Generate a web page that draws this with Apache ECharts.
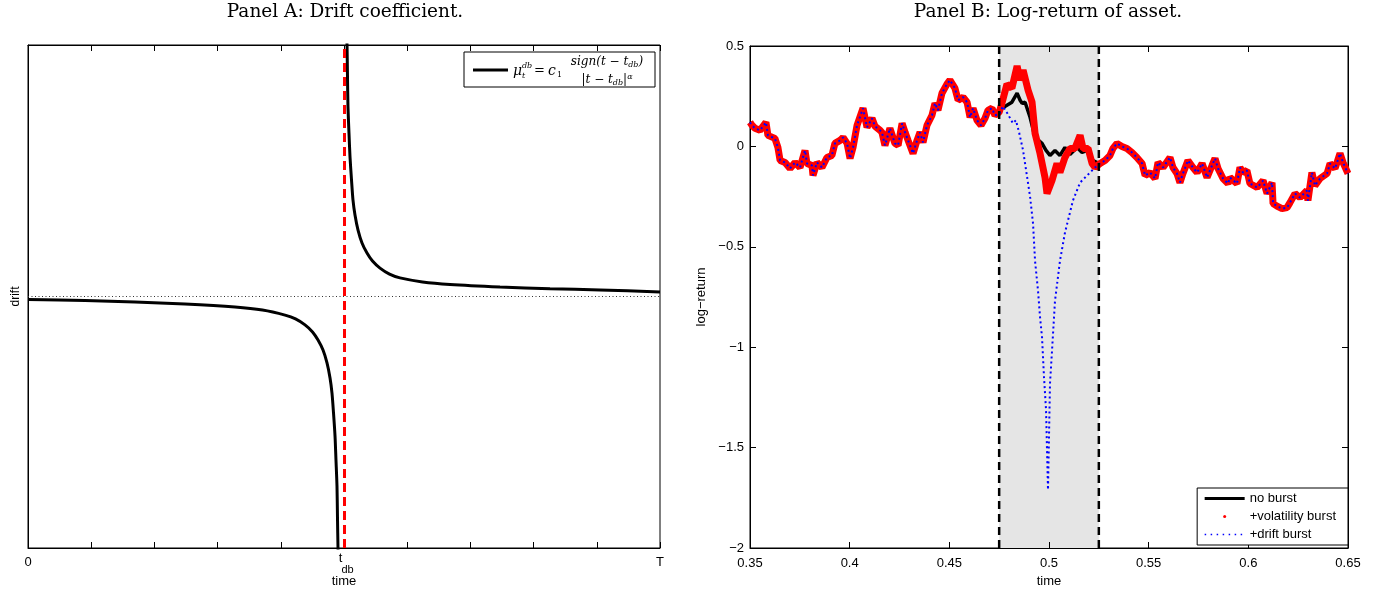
<!DOCTYPE html>
<html><head><meta charset="utf-8">
<script src="https://cdn.jsdelivr.net/npm/echarts/dist/echarts.min.js"></script>
<style>html,body{margin:0;padding:0;background:#fff}#c{width:1389px;height:591px}</style>
</head><body><div id="c"></div>
<script>
// ---------- Panel A data (time as fraction of T, drift in arbitrary units) ----------
const tdb = 0.5;
const driftLeft = [[0,-0.012],[0.0902,-0.016],[0.1693,-0.022],[0.2484,-0.030],[0.3275,-0.042],[0.3710,-0.054],[0.4067,-0.074],[0.4233,-0.089],[0.4383,-0.113],[0.4502,-0.141],[0.4589,-0.173],[0.4668,-0.213],[0.4731,-0.264],[0.4779,-0.324],[0.4810,-0.384],[0.4834,-0.463],[0.4858,-0.555],[0.4873,-0.650],[0.4889,-0.753],[0.4897,-0.881],[0.4905,-1.0],[0.4908,-1.02]];
const driftRight = [[0.5044,1.02],[0.5048,1.0],[0.5055,0.879],[0.5063,0.753],[0.5079,0.649],[0.5095,0.555],[0.5119,0.463],[0.5142,0.384],[0.5174,0.324],[0.5222,0.264],[0.5285,0.213],[0.5364,0.173],[0.5451,0.141],[0.5570,0.113],[0.5720,0.089],[0.5886,0.074],[0.6242,0.058],[0.6677,0.048],[0.7468,0.038],[0.8260,0.031],[0.9051,0.026],[1.0,0.018]];
const xTickLabelsA = {0:'{m|0}', 0.5:'{t|t}\n{s|db}', 1:'{m|T}'};

// ---------- Panel B data ----------
const burstWindow = [0.475, 0.525];
const preWindow = [[0.3500,0.12],[0.3510,0.105],[0.3525,0.09],[0.3550,0.08],[0.3580,0.12],[0.3590,0.055],[0.3625,0.04],[0.3640,-0.005],[0.3651,-0.07],[0.3676,-0.08],[0.3701,-0.11],[0.3726,-0.08],[0.3751,-0.105],[0.3776,-0.02],[0.3786,-0.085],[0.3811,-0.095],[0.3816,-0.145],[0.3836,-0.08],[0.3861,-0.105],[0.3886,-0.055],[0.3911,-0.045],[0.3926,0.015],[0.3952,0.03],[0.3967,0.045],[0.3987,0.015],[0.4002,-0.06],[0.4017,-0.005],[0.4037,0.105],[0.4067,0.19],[0.4087,0.095],[0.4112,0.14],[0.4127,0.10],[0.4152,0.08],[0.4162,0.07],[0.4177,0.005],[0.4202,0.09],[0.4227,0.015],[0.4243,0.005],[0.4263,0.115],[0.4278,0.07],[0.4293,0.03],[0.4318,-0.035],[0.4338,0.03],[0.4353,0.07],[0.4368,0.02],[0.4388,0.105],[0.4413,0.155],[0.4428,0.215],[0.4443,0.18],[0.4463,0.265],[0.4488,0.31],[0.4503,0.33],[0.4528,0.29],[0.4544,0.23],[0.4569,0.245],[0.4589,0.22],[0.4604,0.145],[0.4619,0.19],[0.4639,0.13],[0.4659,0.105],[0.4679,0.14],[0.4694,0.18],[0.4714,0.19],[0.4729,0.155]];
const windowNoBurst = [[0.4750,0.17],[0.4764,0.19],[0.4789,0.205],[0.4814,0.22],[0.4840,0.265],[0.4855,0.23],[0.4865,0.215],[0.4880,0.22],[0.4905,0.145],[0.4930,0.045],[0.4965,0.015],[0.4985,-0.02],[0.5005,-0.045],[0.5030,-0.02],[0.5055,-0.045],[0.5080,-0.005],[0.5105,-0.04],[0.5141,-0.005],[0.5166,-0.03],[0.5191,-0.02],[0.5221,-0.07],[0.5241,-0.08]];
const windowVolBurst = [[0.4750,0.17],[0.4764,0.215],[0.4789,0.31],[0.4814,0.29],[0.4840,0.40],[0.4855,0.33],[0.4870,0.38],[0.4895,0.28],[0.4915,0.22],[0.4930,0.065],[0.4955,-0.035],[0.4980,-0.155],[0.4990,-0.235],[0.5015,-0.17],[0.5040,-0.085],[0.5055,-0.13],[0.5080,-0.055],[0.5105,-0.01],[0.5130,-0.01],[0.5156,0.055],[0.5171,-0.01],[0.5196,-0.01],[0.5216,-0.085],[0.5231,-0.105]];
const windowDriftBurst = [[0.4750,0.16],[0.4769,0.20],[0.4794,0.16],[0.4819,0.115],[0.4834,0.13],[0.4850,0.07],[0.4870,-0.02],[0.4905,-0.25],[0.4920,-0.385],[0.4930,-0.57],[0.4945,-0.72],[0.4955,-0.85],[0.4965,-0.95],[0.4975,-1.15],[0.4985,-1.31],[0.4990,-1.51],[0.4995,-1.71],[0.5005,-1.18],[0.5015,-1.02],[0.5030,-0.77],[0.5055,-0.57],[0.5080,-0.43],[0.5095,-0.37],[0.5120,-0.27],[0.5156,-0.18],[0.5191,-0.145],[0.5231,-0.105]];
const postWindow = [[0.5256,-0.085],[0.5281,-0.07],[0.5306,-0.045],[0.5321,-0.01],[0.5341,0.015],[0.5366,0.0],[0.5391,-0.01],[0.5416,-0.03],[0.5441,-0.055],[0.5467,-0.085],[0.5482,-0.145],[0.5507,-0.13],[0.5532,-0.16],[0.5547,-0.08],[0.5572,-0.105],[0.5607,-0.055],[0.5622,-0.105],[0.5642,-0.135],[0.5657,-0.18],[0.5672,-0.135],[0.5697,-0.07],[0.5722,-0.105],[0.5743,-0.13],[0.5768,-0.085],[0.5793,-0.155],[0.5818,-0.095],[0.5833,-0.06],[0.5848,-0.11],[0.5873,-0.16],[0.5898,-0.185],[0.5908,-0.155],[0.5943,-0.185],[0.5958,-0.105],[0.5973,-0.13],[0.5993,-0.12],[0.6008,-0.185],[0.6044,-0.205],[0.6074,-0.17],[0.6094,-0.235],[0.6119,-0.18],[0.6124,-0.285],[0.6149,-0.30],[0.6169,-0.31],[0.6194,-0.305],[0.6209,-0.28],[0.6234,-0.235],[0.6259,-0.255],[0.6294,-0.22],[0.6299,-0.27],[0.6319,-0.13],[0.6334,-0.195],[0.6360,-0.16],[0.6395,-0.135],[0.6410,-0.085],[0.6435,-0.11],[0.6460,-0.035],[0.6475,-0.08],[0.6500,-0.135]];
const legendNamesB = ['no burst', '+volatility burst', '+drift burst'];
const yRangeB = [-2, 0.5];

const noBurst = preWindow.concat(windowNoBurst, postWindow);
const volBurst = preWindow.concat(windowVolBurst, postWindow);
const driftBurst = preWindow.concat(windowDriftBurst, postWindow);

const FONT = '"Liberation Sans", Arial, sans-serif';
const SERIF = '"DejaVu Serif", serif';
const black = '#000';
const fmtMinus = v => { const r = Number((+v).toFixed(2)); return (r < 0 ? '\u2212' : '') + Math.abs(r); };

const chart = echarts.init(document.getElementById('c'));
const tickIn = {show:true, inside:true, length:6, lineStyle:{color:black, width:1}};
const axLine = {show:true, onZero:false, lineStyle:{color:black, width:1}};
const windowLine = x => ({type:'line', xAxisIndex:2, yAxisIndex:1, data:[[x, yRangeB[0]],[x, yRangeB[1]]], symbol:'none',
  lineStyle:{color:black, width:2.5, type:[8,5]}, z:6, silent:true});

chart.setOption({
  animation:false,
  backgroundColor:'#fff',
  title:[
    {text:'Panel A: Drift coefficient.', left:345, textAlign:'center', top:3, padding:0,
     textStyle:{fontFamily:SERIF, fontSize:18.5, fontWeight:'normal', color:black}},
    {text:'Panel B: Log-return of asset.', left:1048, textAlign:'center', top:3, padding:0,
     textStyle:{fontFamily:SERIF, fontSize:18.5, fontWeight:'normal', color:black}}
  ],
  grid:[
    {left:28, right:729, top:45, bottom:43, outerBoundsMode:'none', containLabel:false, show:true, borderColor:black, borderWidth:1, backgroundColor:'transparent'},
    {left:750, right:41, top:46, bottom:43, outerBoundsMode:'none', containLabel:false, show:true, borderColor:black, borderWidth:1, backgroundColor:'transparent'}
  ],
  xAxis:[
    {gridIndex:0, type:'value', min:0, max:1, interval:0.1, axisLine:axLine, axisTick:tickIn, splitLine:{show:false},
     name:'time', nameLocation:'middle', nameGap:27, nameMoveOverlap:false, nameTextStyle:{fontFamily:FONT, fontSize:13, color:black},
     axisLabel:{margin:5, fontFamily:FONT, fontSize:13, color:black, showMinLabel:true, showMaxLabel:true,
       formatter:v => { const k = Number((+v).toFixed(2)); return xTickLabelsA[k] !== undefined ? xTickLabelsA[k] : ''; },
       rich:{m:{fontFamily:FONT, fontSize:13, color:black, lineHeight:14, padding:[4,0,0,0]},
             t:{fontFamily:FONT, fontSize:13, color:black, lineHeight:11, padding:[0,7,0,0]},
             s:{fontFamily:FONT, fontSize:11, color:black, lineHeight:11, padding:[0,0,0,7]}}}},
    {gridIndex:0, type:'value', position:'top', min:0, max:1, interval:0.1, axisLine:axLine, axisTick:tickIn, splitLine:{show:false}, axisLabel:{show:false}},
    {gridIndex:1, type:'value', min:0.35, max:0.65, interval:0.05, axisLine:axLine, axisTick:tickIn, splitLine:{show:false},
     name:'time', nameLocation:'middle', nameGap:27, nameMoveOverlap:false, nameTextStyle:{fontFamily:FONT, fontSize:13, color:black},
     axisLabel:{margin:9, fontFamily:FONT, fontSize:13, color:black, formatter:fmtMinus}},
    {gridIndex:1, type:'value', position:'top', min:0.35, max:0.65, interval:0.05, axisLine:axLine, axisTick:tickIn, splitLine:{show:false}, axisLabel:{show:false}}
  ],
  yAxis:[
    {gridIndex:0, type:'value', min:-1, max:1, axisLine:axLine, axisTick:{show:false}, axisLabel:{show:false}, splitLine:{show:false},
     name:'drift', nameLocation:'middle', nameGap:6, nameTextStyle:{fontFamily:FONT, fontSize:12, color:black}},
    {gridIndex:1, type:'value', min:yRangeB[0], max:yRangeB[1], interval:0.5, axisLine:axLine, axisTick:tickIn, splitLine:{show:false},
     axisLabel:{margin:6, fontFamily:FONT, fontSize:13, color:black, formatter:fmtMinus},
     name:'log\u2212return', nameLocation:'middle', nameGap:42, nameTextStyle:{fontFamily:FONT, fontSize:13, color:black}},
    {gridIndex:1, type:'value', position:'right', min:yRangeB[0], max:yRangeB[1], interval:0.5, axisLine:axLine, axisTick:tickIn, splitLine:{show:false}, axisLabel:{show:false}}
  ],
  legend:{
    data:[{name:legendNamesB[0], itemStyle:{opacity:0}, lineStyle:{width:3, color:black}},
          {name:legendNamesB[1], icon:'circle'},
          {name:legendNamesB[2], itemStyle:{opacity:0}, lineStyle:{width:1.5, color:'#0000ff', type:[1.5,4.5]}}],
    orient:'vertical', right:41, bottom:46, itemWidth:40, itemHeight:3, itemGap:5,
    backgroundColor:'#fff', borderColor:black, borderWidth:1, borderRadius:0, padding:[4,12,4,6],
    textStyle:{fontFamily:FONT, fontSize:13, color:black}, selectedMode:false, z:20
  },
  series:[
    // Panel A
    {type:'line', name:'driftA-left', xAxisIndex:0, yAxisIndex:0, data:driftLeft, symbol:'none', smooth:0.25,
     lineStyle:{color:black, width:3}, z:3,
     markLine:{silent:true, symbol:'none', label:{show:false},
       data:[{yAxis:0, lineStyle:{color:'#333', width:1, type:[1,2.5]}}]}},
    {type:'line', name:'driftA-right', xAxisIndex:0, yAxisIndex:0, data:driftRight, symbol:'none', smooth:0.25,
     lineStyle:{color:black, width:3}, z:3,
     markLine:{silent:true, symbol:'none', label:{show:false}, z:4,
       data:[{xAxis:tdb, lineStyle:{color:'#ff0000', width:3, type:[9,5]}}]}},
    // Panel B
    {type:'line', name:legendNamesB[0], xAxisIndex:2, yAxisIndex:1, data:noBurst, symbol:'none',
     lineStyle:{color:black, width:3.5}, itemStyle:{color:black}, z:2,
     markArea:{silent:true, itemStyle:{color:'#e5e5e5'}, z:0, data:[[{xAxis:burstWindow[0]},{xAxis:burstWindow[1]}]]}},
    {type:'line', name:legendNamesB[1], xAxisIndex:2, yAxisIndex:1, data:volBurst, symbol:'none',
     lineStyle:{color:'#ff0000', width:7}, itemStyle:{color:'#ff0000'}, z:3},
    {type:'line', name:legendNamesB[2], xAxisIndex:2, yAxisIndex:1, data:driftBurst, symbol:'none',
     lineStyle:{color:'#0000ff', width:2, type:[2,3]}, itemStyle:{color:'#0000ff'}, z:4},
    windowLine(burstWindow[0]),
    windowLine(burstWindow[1])
  ],
  graphic:[
    {type:'group', z:50, children:[
      {type:'rect', shape:{x:464, y:52, width:191, height:35}, style:{fill:'#fff', stroke:black, lineWidth:1}},
      {type:'line', shape:{x1:473, y1:70, x2:508, y2:70}, style:{stroke:black, lineWidth:3}},
      {type:'text', x:513, y:71, style:{text:'\u03bc', font:'italic 14px "DejaVu Serif"', fill:black, textVerticalAlign:'middle'}},
      {type:'text', x:522, y:66, style:{text:'db', font:'italic 8px "DejaVu Serif"', fill:black, textVerticalAlign:'middle'}},
      {type:'text', x:522, y:76, style:{text:'t', font:'italic 8px "DejaVu Serif"', fill:black, textVerticalAlign:'middle'}},
      {type:'text', x:534, y:71, style:{text:'= ', font:'13px "DejaVu Serif"', fill:black, textVerticalAlign:'middle'}},
      {type:'text', x:548, y:71, style:{text:'c', font:'italic 14px "DejaVu Serif"', fill:black, textVerticalAlign:'middle'}},
      {type:'text', x:557, y:75, style:{text:'1', font:'8px "DejaVu Serif"', fill:black, textVerticalAlign:'middle'}},
      {type:'text', x:607, y:62, style:{text:'{n|sign(t \u2212 t}{s|db}{n|)}', textAlign:'center', textVerticalAlign:'middle',
        rich:{n:{font:'italic 12px "DejaVu Serif"', fill:black}, s:{font:'italic 8px "DejaVu Serif"', fill:black, padding:[6,0,0,0]}}}},
      {type:'text', x:607, y:80, style:{text:'{n||t \u2212 t}{s|db}{n||}{p|\u03b1}', textAlign:'center', textVerticalAlign:'middle',
        rich:{n:{font:'italic 12px "DejaVu Serif"', fill:black}, s:{font:'italic 8px "DejaVu Serif"', fill:black, padding:[6,0,0,0]},
              p:{font:'italic 8px "DejaVu Serif"', fill:black, padding:[0,0,6,0]}}}}
    ]}
  ]
});
</script></body></html>
